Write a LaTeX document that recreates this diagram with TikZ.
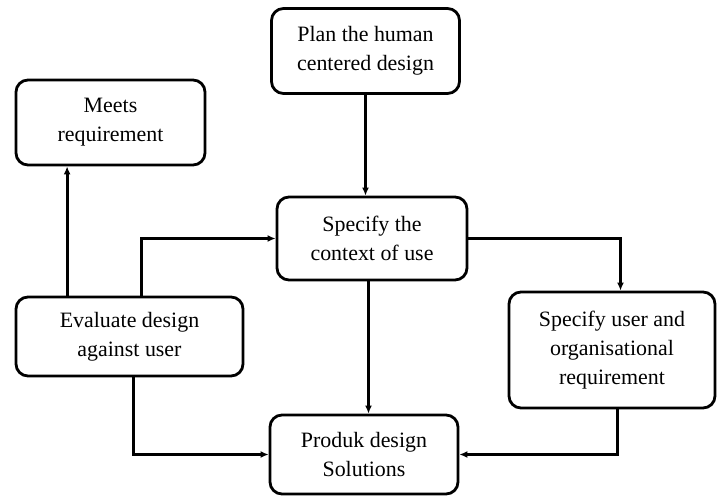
\documentclass[tikz,border=0pt]{standalone}
\usepackage{fontspec}
\setmainfont{Liberation Serif}
\usetikzlibrary{arrows.meta}
\begin{document}
\begin{tikzpicture}[
        x = 1bp, y = -1bp,
        box/.style = {draw, line width = 2.8bp, rounded corners = 12bp, align = center,
            inner sep = 0pt, font = \fontsize{22}{29}\selectfont},
        arr/.style = {line width = 3bp, -{Latex[length = 8bp, width = 7bp]}}
    ]
        \useasboundingbox (0,0) rectangle (718,497);
        \node[box, minimum width = 189bp, minimum height = 85bp] (meets) at (110.5,122.5) {Meets\\requirement};
        \node[box, minimum width = 188bp, minimum height = 85bp] (plan) at (365.5,51) {Plan the human\\centered design};
        \node[box, minimum width = 190bp, minimum height = 83bp] (context) at (372,238.5) {Specify the\\context of use};
        \node[box, minimum width = 227bp, minimum height = 79bp] (evaluate) at (129.5,336.5) {Evaluate design\\against user};
        \node[box, minimum width = 206bp, minimum height = 116bp] (userreq) at (612,350) {Specify user and\\organisational\\requirement};
        \node[box, minimum width = 188bp, minimum height = 79bp] (produk) at (364,454.5) {Produk design\\Solutions};
        \coordinate (e1) at ([xshift = 52.5bp]evaluate.north west);
        \coordinate (e2) at ([xshift = 126.5bp]evaluate.north west);
        \coordinate (e3) at ([xshift = 4bp]evaluate.south);
        \coordinate (c1) at ([xshift = -3.5bp]context.south);
        \coordinate (u1) at ([xshift = 5.5bp]userreq.south);
        \draw[arr] (plan.south) -- (plan.south |- context.north);
        \draw[arr] (e1) -- (e1 |- meets.south);
        \draw[arr] (e2) |- (context.west);
        \draw[arr] (context.east) -| ([xshift = 8.5bp]userreq.north);
        \draw[arr] (c1) -- (c1 |- produk.north);
        \draw[arr] (e3) |- (produk.west);
        \draw[arr] (u1) |- (produk.east);
    \end{tikzpicture}
\end{document}
